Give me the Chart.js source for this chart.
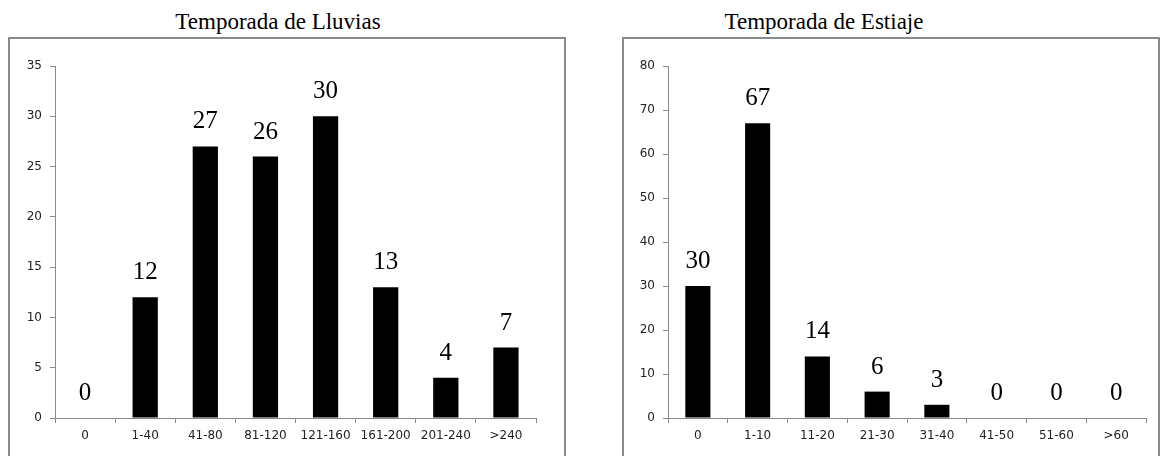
<!DOCTYPE html>
<html>
<head>
<meta charset="utf-8">
<script src="https://cdn.jsdelivr.net/npm/chart.js@4"></script>
<style>
  html, body { margin: 0; padding: 0; background: #fff; }
  body { width: 1161px; height: 456px; overflow: hidden; position: relative; }
  .titulo { position: absolute; top: 9px; font-family: 'Liberation Serif', 'Times New Roman', serif;
            font-size: 23px; color: #000; white-space: nowrap; transform: translateX(-50%); }
  .caja { position: absolute; top: 37px; height: 440px; box-sizing: border-box; border: 2px solid #8a8a8a; }
  canvas { position: absolute; top: 37px; }
</style>
</head>
<body>
<div class="titulo" style="left:278px">Temporada de Lluvias</div>
<div class="titulo" style="left:824px">Temporada de Estiaje</div>
<div class="caja" style="left:8px;width:558px"></div>
<div class="caja" style="left:622px;width:538px"></div>
<canvas id="lluvias" width="558" height="419" style="left:8px"></canvas>
<canvas id="estiaje" width="538" height="419" style="left:622px"></canvas>
<script>
// datos
const categoriasLluvias = ['0', '1-40', '41-80', '81-120', '121-160', '161-200', '201-240', '>240'];
const valoresLluvias = [0, 12, 27, 26, 30, 13, 4, 7];
const maxLluvias = 35;
const pasoLluvias = 5;

const categoriasEstiaje = ['0', '1-10', '11-20', '21-30', '31-40', '41-50', '51-60', '>60'];
const valoresEstiaje = [30, 67, 14, 6, 3, 0, 0, 0];
const maxEstiaje = 80;
const pasoEstiaje = 10;

const grisEje = '#8a8a8a';

// etiquetas de valor encima de cada barra
const etiquetasValor = {
    id: 'etiquetasValor',
    afterDatasetsDraw(chart) {
        const ctx = chart.ctx;
        const meta = chart.getDatasetMeta(0);
        const datos = chart.data.datasets[0].data;
        ctx.save();
        ctx.font = '25px "Liberation Serif", "Times New Roman", serif';
        ctx.fillStyle = '#000';
        ctx.textAlign = 'center';
        ctx.textBaseline = 'alphabetic';
        meta.data.forEach((barra, i) => {
            ctx.fillText(String(datos[i]), barra.x, barra.y - 18);
        });
        ctx.restore();
    }
};

function crearGrafico(id, categorias, valores, max, paso, anchoEjeY, padDerecha) {
    return new Chart(document.getElementById(id), {
        type: 'bar',
        data: {
            labels: categorias,
            datasets: [{
                data: valores,
                backgroundColor: '#000',
                borderWidth: 0,
                categoryPercentage: 1,
                barPercentage: 0.42
            }]
        },
        options: {
            responsive: false,
            animation: false,
            devicePixelRatio: 1,
            layout: { padding: { top: 29, right: padDerecha, left: 0, bottom: 0 } },
            plugins: { legend: { display: false }, tooltip: { enabled: false } },
            scales: {
                x: {
                    grid: { drawOnChartArea: false, tickLength: 5, color: grisEje, offset: true },
                    border: { color: grisEje },
                    ticks: {
                        color: '#222', padding: 6, maxRotation: 0, autoSkip: false,
                        font: { family: 'DejaVu Sans', size: 12 }
                    },
                    afterFit(escala) { escala.height = 38; }
                },
                y: {
                    min: 0,
                    max: max,
                    grid: { drawOnChartArea: false, tickLength: 5, color: grisEje },
                    border: { color: grisEje },
                    ticks: {
                        stepSize: paso, color: '#222', padding: 8,
                        font: { family: 'DejaVu Sans', size: 12 }
                    },
                    afterFit(escala) { escala.width = anchoEjeY; }
                }
            }
        },
        plugins: [etiquetasValor]
    });
}

crearGrafico('lluvias', categoriasLluvias, valoresLluvias, maxLluvias, pasoLluvias, 47, 30);
crearGrafico('estiaje', categoriasEstiaje, valoresEstiaje, maxEstiaje, pasoEstiaje, 46, 14);
</script>
</body>
</html>
